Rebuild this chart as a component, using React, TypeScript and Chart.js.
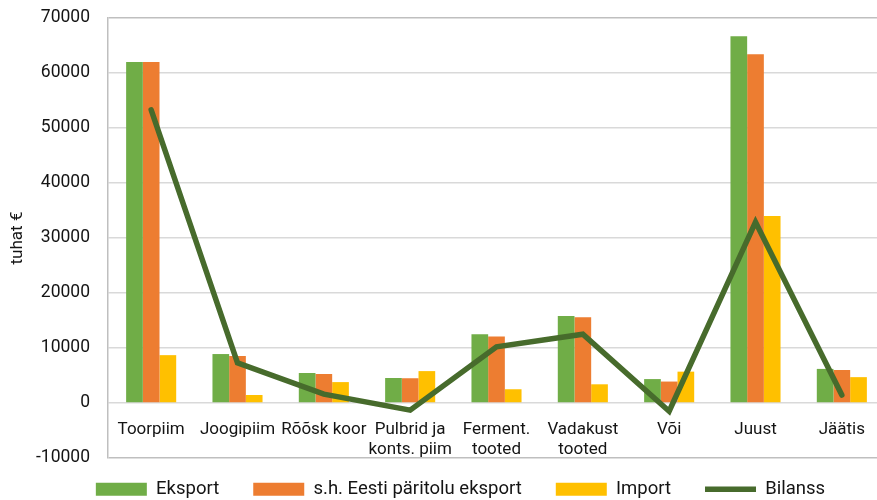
import React, { useEffect, useRef } from "react";
import { Chart, registerables } from "chart.js";

Chart.register(...registerables);

const categories: (string | string[])[] = [
  "Toorpiim",
  "Joogipiim",
  "Rõõsk koor",
  ["Pulbrid ja", "konts. piim"],
  ["Ferment.", "tooted"],
  ["Vadakust", "tooted"],
  "Või",
  "Juust",
  "Jäätis",
];
const eksport = [62000, 8900, 5450, 4550, 12500, 15800, 4350, 66700, 6200];
const eestiEksport = [62000, 8550, 5270, 4500, 12100, 15600, 3900, 63400, 6000];
const importData = [8700, 1450, 3800, 5800, 2500, 3400, 5700, 34000, 4700];
const bilanss = [53300, 7300, 1600, -1300, 10200, 12500, -1500, 32900, 1450];

const FONT = "Roboto";
const TEXT = "#141414";

export default function App() {
  const ref = useRef<HTMLCanvasElement | null>(null);
  useEffect(() => {
    if (!ref.current) return;
    const legendTweak = {
      id: "legendTweak",
      beforeLayout(chart: any) {
        const lg = chart.legend;
        if (lg && !lg._patched) {
          const orig = lg.fit.bind(lg);
          lg.fit = function () {
            orig();
            this.height = 42;
          };
          lg._patched = true;
        }
      },
      afterLayout(chart: any) {
        const lg = chart.legend;
        if (lg) {
          lg.top -= 12;
          lg.left += 18;
          lg.right += 18;
        }
      },
    };
    const chart = new Chart(ref.current, {
      type: "bar",
      data: {
        labels: categories,
        datasets: [
          {
            label: "Eksport",
            data: eksport,
            backgroundColor: "#70ad47",
            borderWidth: 0,
            order: 1,
            pointStyle: "rect",
          } as any,
          {
            label: "s.h. Eesti päritolu eksport",
            data: eestiEksport,
            backgroundColor: "#ed7d31",
            borderWidth: 0,
            order: 1,
            pointStyle: "rect",
          },
          {
            label: "Import",
            data: importData,
            backgroundColor: "#ffc000",
            borderWidth: 0,
            order: 1,
            pointStyle: "rect",
          },
          {
            type: "line",
            label: "Bilanss",
            data: bilanss,
            borderColor: "#476b2c",
            backgroundColor: "#476b2c",
            borderWidth: 5.5,
            borderCapStyle: "round",
            borderJoinStyle: "miter",
            pointRadius: 0,
            pointHoverRadius: 0,
            pointStyle: "line",
            tension: 0,
            order: 0,
          },
        ],
      },
      options: {
        animation: false,
        responsive: true,
        maintainAspectRatio: false,
        layout: { padding: { top: 18, right: 10, left: 0, bottom: 0 } },
        datasets: {
          bar: { categoryPercentage: 0.58, barPercentage: 1.0 },
        },
        plugins: {
          legend: {
            position: "bottom",
            labels: {
              usePointStyle: true,
              pointStyleWidth: 51,
              boxWidth: 51,
              boxHeight: 13,
              padding: 34,
              color: TEXT,
              font: { family: FONT, size: 18.5 },
              sort: (a: any, b: any) => a.datasetIndex - b.datasetIndex,
            },
          },
          tooltip: { enabled: false },
        },
        scales: {
          x: {
            position: { y: 0 } as any,
            grid: { display: false },
            border: { display: false },
            ticks: {
              color: TEXT,
              padding: 9,
              maxRotation: 0,
              autoSkip: false,
              font: { family: FONT, size: 17, lineHeight: 1.18 },
            },
          },
          y: {
            min: -10000,
            max: 70000,
            afterFit: (s: any) => {
              s.width = 108;
              s.paddingTop = 0;
              s.paddingBottom = 0;
            },
            ticks: {
              stepSize: 10000,
              padding: 18,
              color: TEXT,
              font: { family: FONT, size: 17.5 },
              callback: (v: any) => String(v),
            },
            grid: {
              drawTicks: false,
              lineWidth: 1.5,
              color: (ctx: any) =>
                ctx.tick && (ctx.tick.value === 70000 || ctx.tick.value === -10000)
                  ? "#bfbfbf"
                  : "#d9d9d9",
            },
            border: { display: true, color: "#bfbfbf", width: 1.5 },
            title: {
              display: true,
              text: "tuhat €",
              color: TEXT,
              padding: { top: 8, bottom: 0 },
              font: { family: FONT, size: 17 },
            },
          },
        },
      },
      plugins: [legendTweak],
    });
    return () => chart.destroy();
  }, []);
  return (
    <div
      style={{
        position: "fixed",
        left: 0,
        top: 0,
        width: 877,
        height: 500,
        overflow: "hidden",
        background: "#fff",
      }}
    >
      <div style={{ position: "relative", width: 895, height: 500 }}>
        <canvas ref={ref} />
      </div>
    </div>
  );
}
